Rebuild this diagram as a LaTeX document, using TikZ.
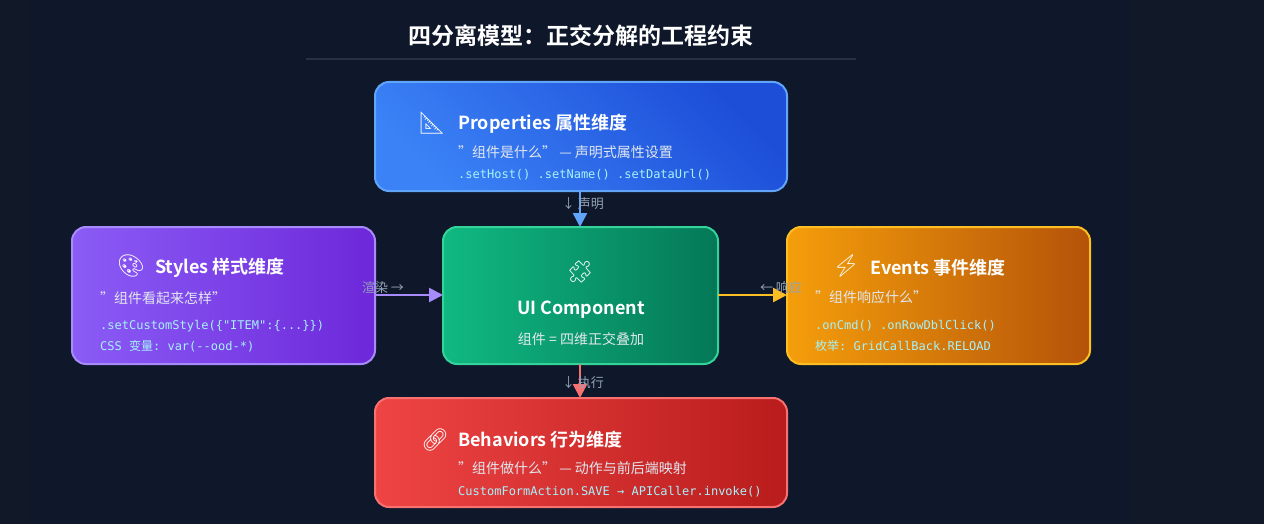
\documentclass[tikz,border=0pt]{standalone}
\usepackage{fontspec}
\setmainfont{Noto Sans CJK SC}[BoldFont={* Bold}]
\setmonofont{DejaVu Sans Mono}
\newfontfamily\cjk{Noto Sans CJK SC}
\newfontfamily\emo{Noto Emoji}
\usetikzlibrary{arrows.meta}
\definecolor{bgout}{HTML}{111827}
\definecolor{bgin}{HTML}{0F172A}
\definecolor{rulec}{HTML}{263244}
\definecolor{lbl}{HTML}{94A3B8}
\definecolor{codec}{HTML}{A5F3FC}
\definecolor{subc}{HTML}{E2E8F0}
\definecolor{b1}{HTML}{3B82F6}\definecolor{b2}{HTML}{1D4ED8}\definecolor{b3}{HTML}{60A5FA}
\definecolor{p1}{HTML}{8B5CF6}\definecolor{p2}{HTML}{6D28D9}\definecolor{p3}{HTML}{A78BFA}
\definecolor{g1}{HTML}{10B981}\definecolor{g2}{HTML}{047857}\definecolor{g3}{HTML}{34D399}
\definecolor{o1}{HTML}{F59E0B}\definecolor{o2}{HTML}{B45309}\definecolor{o3}{HTML}{FBBF24}
\definecolor{r1}{HTML}{EF4444}\definecolor{r2}{HTML}{B91C1C}\definecolor{r3}{HTML}{F87171}
\tikzset{
 card/.style n args={3}{rounded corners=14pt, line width=2pt, draw=#3, left color=#1, right color=#2, inner sep=0pt},
 ttl/.style={anchor=west, text=white, font=\bfseries\fontsize{18}{20}\selectfont, inner sep=0pt},
 sub/.style={anchor=west, text=subc, font=\fontsize{14}{16}\selectfont, inner sep=0pt},
 code/.style={anchor=west, text=codec, font=\ttfamily\fontsize{12}{14}\selectfont, inner sep=0pt},
 ico/.style={text=white, font=\emo\fontsize{22}{24}\selectfont, inner sep=0pt},
 lab/.style={text=lbl, font=\fontsize{13}{15}\selectfont, inner sep=0pt},
 conn/.style={line width=2.5pt, -{Triangle[length=14pt,width=14pt]}},
}
\begin{document}
\begin{tikzpicture}[x=1pt,y=-1pt]
\fill[bgout] (0,0) rectangle (1264,524);
\fill[bgin] (30,0) rectangle (1130,524);
\useasboundingbox (0,0) rectangle (1264,524);
\node[text=white, font=\bfseries\fontsize{23}{26}\selectfont] (title) at (581,36) {四分离模型：正交分解的工程约束};
\draw[rulec, line width=2pt] (306,59) -- (856,59);
% cards
\path[card={b1}{b2}{b3}, shading angle=135] (375,82) rectangle (787,191);
\path[card={p1}{p2}{p3}] (72,227) rectangle (375,364);
\path[card={g1}{g2}{g3}] (443,227) rectangle (718,364);
\path[card={o1}{o2}{o3}] (787,227) rectangle (1090,364);
\path[card={r1}{r2}{r3}] (375,398) rectangle (787,507);
\coordinate (propS) at (580,191);
\coordinate (uiN) at (580,227);
\coordinate (uiS) at (580,364);
\coordinate (behN) at (580,398);
\coordinate (styE) at (375,295);
\coordinate (uiW) at (443,295);
\coordinate (uiE) at (718,295);
\coordinate (evW) at (787,295);
% connectors
\draw[conn, b3] (propS) -- (uiN);
\draw[conn, p3] (styE) -- (uiW);
\draw[conn, o3] (uiE) -- (evW);
\draw[conn, r3] (uiS) -- (behN);
\node[lab] (l1) at (583,204) {↓ 声明};
\node[lab] (l2) at (383,288) {渲染 →};
\node[lab] (l3) at (781,288) {← 响应};
\node[lab] (l4) at (583,383) {↓ 执行};
% properties
\node[ico] (i1) at (432,123) {📐};
\node[ttl] (t1) at (458,124) {Properties 属性维度};
\node[sub] (s1) at (458,152) {"组件是什么" — 声明式属性设置};
\node[code] (c1) at (458,175) {.setHost() .setName() .setDataUrl()};
% styles
\node[ico] (i2) at (131,266) {🎨};
\node[ttl] (t2) at (155,268) {Styles 样式维度};
\node[sub] (s2) at (100,298) {"组件看起来怎样"};
\node[code] (c2) at (100,326) {.setCustomStyle(\{"ITEM":\{...\}\})};
\node[code] (c3) at (100,346) {CSS {\cjk 变量}: var(--ood-*)};
% ui
\node[ico] (i3) at (580,272) {🧩};
\node[text=white, font=\bfseries\fontsize{18}{20}\selectfont] (t3) at (581,310) {UI Component};
\node[text=subc, font=\fontsize{14}{16}\selectfont] (s3) at (581,339) {组件 = 四维正交叠加};
% events
\node[ico] (i4) at (846,266) {⚡};
\node[ttl] (t4) at (870,268) {Events 事件维度};
\node[sub] (s4) at (815,297) {"组件响应什么"};
\node[code] (c4) at (815,326) {.onCmd() .onRowDblClick()};
\node[code] (c5) at (815,346) {{\cjk 枚举}: GridCallBack.RELOAD};
% behaviors
\node[ico] (i5) at (435,440) {🔗};
\node[ttl] (t5) at (458,440) {Behaviors 行为维度};
\node[sub] (s5) at (458,468) {"组件做什么" — 动作与前后端映射};
\node[code] (c6) at (458,492) {CustomFormAction.SAVE → APICaller.invoke()};
\end{tikzpicture}
\end{document}
